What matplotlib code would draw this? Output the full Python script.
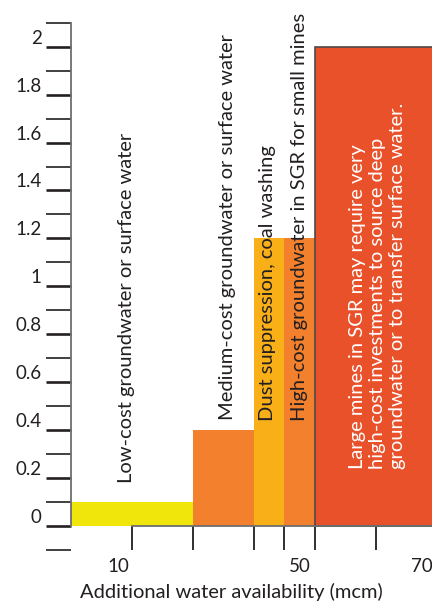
import matplotlib
matplotlib.use('Agg')
import matplotlib.pyplot as plt
from matplotlib.transforms import ScaledTranslation

plt.rcParams['font.family'] = ['Lato', 'DejaVu Sans']

# ---- data (schematic units) ----
seg_left = [0, 20, 30, 35, 40]
seg_width = [20, 10, 5, 5, 22]
seg_height = [0.1, 0.4, 1.2, 1.2, 2.0]
seg_colors = ['#F0E60C', '#F2802C', '#F9B018', '#F2802C', '#E9512B']
seg_labels = [
    'Low-cost groundwater or surface water',
    'Medium-cost groundwater or surface water',
    'Dust suppression, coal washing',
    'High-cost groundwater in SGR for small mines',
    'Large mines in SGR may require very\nhigh-cost investments to source deep\ngroundwater or to transfer surface water.',
]
label_x = [9.1, 25.7, 32.3, 37.5, 50.2]
label_y = [0.178, 0.441, 0.437, 0.437, 0.24]
label_colors = ['#231F20', '#231F20', '#231F20', '#231F20', 'white']

xtick_marks = [10, 20, 30, 35, 40, 50]
xtick_label_pos = [7.7, 37.5, 57.5]
xtick_labels = ['10', '50', '70']
ytick_major = [0, 0.2, 0.4, 0.6, 0.8, 1.0, 1.2, 1.4, 1.6, 1.8, 2.0]
ytick_labels = ['0', '0.2', '0.4', '0.6', '0.8', '1', '1.2', '1.4', '1.6', '1.8', '2']
ytick_minor = [-0.1, 0.1, 0.3, 0.5, 0.7, 0.9, 1.1, 1.3, 1.5, 1.7, 1.9, 2.1]
xlabel = 'Additional water availability (mcm)'

dark = '#231F20'
spine_c = '#6D6E71'

fig = plt.figure(figsize=(4.32, 6.04), dpi=100)
ax = fig.add_axes([71 / 432, 54 / 604, (432 - 71) / 432, (550 - 22.7) / 604])
ax.set_xlim(0, 59.2)
ax.set_ylim(-0.1, 2.1)

for i, (l, w, h, c) in enumerate(zip(seg_left, seg_width, seg_height, seg_colors)):
    if i == len(seg_left) - 1:
        ax.bar(l, h, w, align='edge', color=c, edgecolor='#4D4A48', linewidth=1.2, zorder=2)
    else:
        ax.bar(l, h, w, align='edge', color=c, linewidth=0, zorder=2)

for t, x, y, c in zip(seg_labels, label_x, label_y, label_colors):
    ax.text(x, y, t, rotation=90, ha='center', va='bottom', multialignment='left',
            color=c, fontsize=14.5, linespacing=1.22, zorder=3)

ax.spines['top'].set_visible(False)
ax.spines['right'].set_visible(False)
ax.spines['left'].set_bounds(0, 2.1)
ax.spines['left'].set_color(spine_c)
ax.spines['left'].set_linewidth(1.3)
ax.spines['left'].set_zorder(4)
ax.spines['bottom'].set_position(('data', 0))
ax.spines['bottom'].set_bounds(10, 59.2)
ax.spines['bottom'].set_color(spine_c)
ax.spines['bottom'].set_linewidth(1.3)

ax.set_yticks(ytick_major, ytick_labels)
ax.set_yticks(ytick_minor, minor=True)
ax.tick_params(axis='y', which='major', length=18, width=1.9, color=dark, pad=3,
               labelsize=13.5, labelcolor=dark)
ax.tick_params(axis='y', which='minor', length=18, width=1.2, color=dark)
for lab in ax.get_yticklabels():
    lab.set_transform(lab.get_transform() + ScaledTranslation(0, 0.10, fig.dpi_scale_trans))

ax.set_xticks(xtick_label_pos, xtick_labels)
ax.set_xticks(xtick_marks, minor=True)
ax.tick_params(axis='x', which='major', length=0, pad=23, labelsize=13.5, labelcolor=dark)
ax.tick_params(axis='x', which='minor', length=17.5, width=1.3, color=dark)

ax.set_xlabel(xlabel, fontsize=14.5, color=dark, va='top')
ax.xaxis.set_label_coords(0.443, -0.063)

fig.savefig('out.png', dpi=100)
